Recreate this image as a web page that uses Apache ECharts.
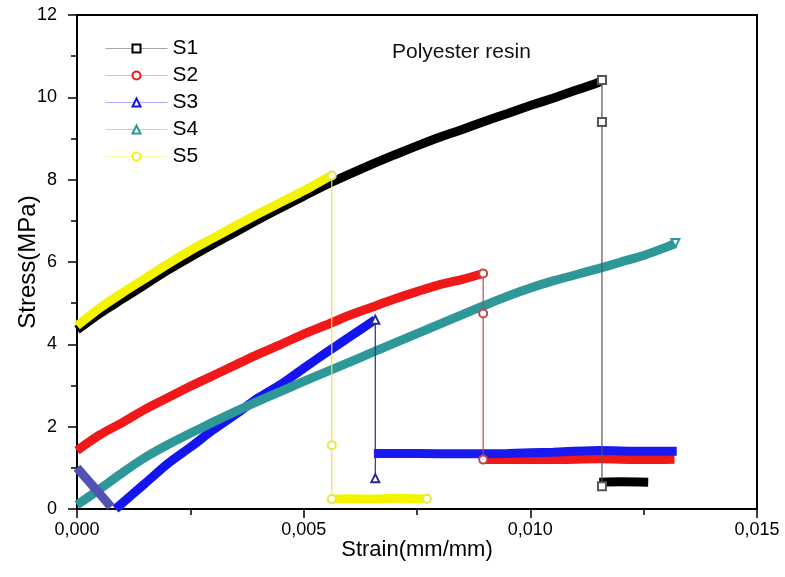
<!DOCTYPE html>
<html>
<head>
<meta charset="utf-8">
<script src="https://cdn.jsdelivr.net/npm/echarts/dist/echarts.min.js"></script>
<style>
  html, body { margin: 0; padding: 0; background: #fff; }
  #main { width: 785px; height: 577px; }
</style>
</head>
<body>
<div id="main"></div>
<script>
// ticks
var xTicks = [0, 0.005, 0.010, 0.015]
var yTicks = [0, 2, 4, 6, 8, 10, 12]

// S1 - loading curve, break, residual
var s1Strain = [0, 0.0005, 0.001, 0.0015, 0.002, 0.0025, 0.003, 0.0035, 0.004, 0.0045, 0.005, 0.0055, 0.006, 0.0065, 0.007, 0.0075, 0.008, 0.0085, 0.009, 0.0095, 0.010, 0.0105, 0.011, 0.0115, 0.01158]
var s1Stress = [4.35, 4.75, 5.1, 5.45, 5.8, 6.12, 6.43, 6.73, 7.03, 7.32, 7.6, 7.88, 8.13, 8.37, 8.6, 8.82, 9.03, 9.22, 9.42, 9.61, 9.8, 9.98, 10.17, 10.36, 10.42]
var s1BreakStrain = 0.01158
var s1BreakStress = [10.42, 9.4, 0.55]
var s1RestStrain = [0.01152, 0.0120, 0.0126]
var s1RestStress = [0.65, 0.66, 0.65]

// S2
var s2Strain = [0, 0.0005, 0.001, 0.0015, 0.002, 0.0025, 0.003, 0.0035, 0.004, 0.0045, 0.005, 0.0055, 0.006, 0.0065, 0.007, 0.0075, 0.008, 0.0085, 0.00896]
var s2Stress = [1.42, 1.8, 2.1, 2.42, 2.7, 2.98, 3.24, 3.5, 3.76, 4.0, 4.25, 4.47, 4.7, 4.9, 5.1, 5.28, 5.45, 5.58, 5.72]
var s2BreakStrain = 0.00896
var s2BreakStress = [5.72, 4.75, 1.2]
var s2RestStrain = [0.00896, 0.0095, 0.0105, 0.0115, 0.0125, 0.01318]
var s2RestStress = [1.2, 1.21, 1.2, 1.22, 1.2, 1.21]

// S3 (short unloading at start, then loading)
var s3StartStrain = [0, 0.0004, 0.00075]
var s3StartStress = [1.0, 0.5, 0.05]
var s3Strain = [0.00085, 0.0015, 0.002, 0.0025, 0.003, 0.0035, 0.004, 0.0045, 0.005, 0.0055, 0.006, 0.00658]
var s3Stress = [0, 0.62, 1.1, 1.5, 1.92, 2.3, 2.7, 3.03, 3.42, 3.8, 4.17, 4.6]
var s3BreakStrain = 0.00658
var s3BreakStress = [4.6, 0.75]
var s3RestStrain = [0.00655, 0.0075, 0.0085, 0.0095, 0.0105, 0.0115, 0.0125, 0.01323]
var s3RestStress = [1.35, 1.35, 1.34, 1.35, 1.38, 1.42, 1.4, 1.4]

// S4
var s4Strain = [0, 0.0005, 0.001, 0.0015, 0.002, 0.0025, 0.003, 0.0035, 0.004, 0.0045, 0.005, 0.0055, 0.006, 0.0065, 0.007, 0.0075, 0.008, 0.0085, 0.009, 0.0095, 0.010, 0.0105, 0.011, 0.0115, 0.012, 0.0125, 0.013, 0.0132]
var s4Stress = [0.1, 0.48, 0.88, 1.25, 1.56, 1.84, 2.11, 2.37, 2.62, 2.86, 3.1, 3.33, 3.56, 3.8, 4.03, 4.26, 4.49, 4.72, 4.95, 5.17, 5.37, 5.54, 5.69, 5.84, 6.0, 6.16, 6.36, 6.46]

// S5
var s5Strain = [0, 0.0005, 0.001, 0.0015, 0.002, 0.0025, 0.003, 0.0035, 0.004, 0.0045, 0.005, 0.0056]
var s5Stress = [4.45, 4.88, 5.25, 5.6, 5.95, 6.28, 6.58, 6.88, 7.17, 7.45, 7.73, 8.1]
var s5BreakStrain = 0.00562
var s5BreakStress = [8.1, 1.55, 0.24]
var s5RestStrain = [0.00562, 0.006, 0.0065, 0.007, 0.0075, 0.00772]
var s5RestStress = [0.24, 0.25, 0.24, 0.26, 0.25, 0.25]

var FONT = 'Liberation Sans'

function zip(xs, ys) {
    return xs.map(function (x, i) { return [x, ys[i]] })
}

// thick band made of the dense markers in the original
function band(name, color, xs, ys, sym) {
    return {
        name: name,
        type: 'line',
        data: zip(xs, ys),
        smooth: 0.25,
        symbol: sym,
        showSymbol: false,
        symbolSize: 8,
        lineStyle: { width: 9, color: color },
        itemStyle: { color: color, borderWidth: 1.2 },
        z: 2,
        animation: false,
        silent: true
    }
}

// thin vertical line where the sample broke (also used for single end markers)
function drop(name, color, x, ys, sym, rotate) {
    return {
        name: name,
        type: 'line',
        data: ys.map(function (y) { return [x, y] }),
        symbol: sym,
        symbolSize: 8,
        symbolRotate: rotate || 0,
        showSymbol: true,
        lineStyle: { width: 1.2, color: color },
        itemStyle: { color: color, borderWidth: 1.2 },
        z: 4,
        animation: false,
        silent: true
    }
}

var seriesData = [
    band('S1', '#000000', s1Strain, s1Stress, 'emptyRect'),
    band('S2', '#f01818', s2Strain, s2Stress, 'emptyCircle'),
    band('S3', '#1414f0', s3Strain, s3Stress, 'emptyTriangle'),
    band('S4', '#2e9898', s4Strain, s4Stress, 'emptyTriangle'),
    band('S5', '#f4f400', s5Strain, s5Stress, 'emptyCircle'),

    band('S1', '#000000', s1RestStrain, s1RestStress, 'emptyRect'),
    band('S2', '#f01818', s2RestStrain, s2RestStress, 'emptyCircle'),
    band('S3', '#5252b4', s3StartStrain, s3StartStress, 'emptyTriangle'),
    band('S3', '#1a1aee', s3RestStrain, s3RestStress, 'emptyTriangle'),
    band('S5', '#f4f400', s5RestStrain, s5RestStress, 'emptyCircle'),

    drop('S1', '#555555', s1BreakStrain, s1BreakStress, 'emptyRect'),
    drop('S2', '#c04848', s2BreakStrain, s2BreakStress, 'emptyCircle'),
    drop('S3', '#2a2a8c', s3BreakStrain, s3BreakStress, 'emptyTriangle'),
    drop('S5', '#e6e650', s5BreakStrain, s5BreakStress, 'emptyCircle'),

    // last points
    drop('S4', '#2e9898', s4Strain[s4Strain.length - 1], [s4Stress[s4Stress.length - 1]], 'emptyTriangle', 180),
    drop('S5', '#e6e650', s5RestStrain[s5RestStrain.length - 1], [s5RestStress[s5RestStress.length - 1]], 'emptyCircle')
]

var myChart = echarts.init(document.getElementById('main'), null, { renderer: 'canvas' })

var option = {
    backgroundColor: '#ffffff',
    textStyle: { fontFamily: FONT },
    title: {
        text: 'Polyester resin',
        left: 387,
        top: 37,
        textStyle: { fontFamily: FONT, fontSize: 21, fontWeight: 'normal', color: '#111' }
    },
    legend: {
        data: ['S1', 'S2', 'S3', 'S4', 'S5'],
        orient: 'vertical',
        left: 100,
        top: 33,
        itemWidth: 62,
        itemHeight: 10,
        itemGap: 6,
        lineStyle: { width: 1, opacity: 0.35 },
        textStyle: { fontFamily: FONT, fontSize: 21, color: '#000', lineHeight: 21 },
        selectedMode: false
    },
    grid: {
        left: 77,
        right: 28,
        top: 15,
        bottom: 68,
        outerBoundsMode: 'none',
        show: true,
        borderColor: '#000',
        borderWidth: 2
    },
    xAxis: {
        type: 'value',
        min: xTicks[0],
        max: xTicks[xTicks.length - 1],
        interval: 0.005,
        name: 'Strain(mm/mm)',
        nameLocation: 'middle',
        nameGap: 30,
        nameMoveOverlap: false,
        nameTextStyle: { fontFamily: FONT, fontSize: 22, color: '#000' },
        axisLine: { lineStyle: { color: '#000', width: 2 } },
        axisTick: { length: 9, lineStyle: { color: '#000', width: 1.5 } },
        minorTick: { show: true, splitNumber: 2, length: 6, lineStyle: { color: '#000', width: 1.5 } },
        splitLine: { show: false },
        axisLabel: {
            margin: 12,
            fontFamily: FONT,
            fontSize: 18,
            color: '#000',
            formatter: function (v) { return v.toFixed(3).replace('.', ',') }
        }
    },
    yAxis: {
        type: 'value',
        min: yTicks[0],
        max: yTicks[yTicks.length - 1],
        interval: 2,
        name: 'Stress(MPa)',
        nameLocation: 'middle',
        nameGap: 37,
        nameMoveOverlap: false,
        nameTextStyle: { fontFamily: FONT, fontSize: 24, color: '#000' },
        axisLine: { lineStyle: { color: '#000', width: 2 } },
        axisTick: { length: 9, lineStyle: { color: '#000', width: 1.5 } },
        minorTick: { show: true, splitNumber: 2, length: 6, lineStyle: { color: '#000', width: 1.5 } },
        splitLine: { show: false },
        axisLabel: { margin: 20, fontFamily: FONT, fontSize: 18, color: '#000' }
    },
    series: seriesData
}

myChart.setOption(option)
</script>
</body>
</html>
